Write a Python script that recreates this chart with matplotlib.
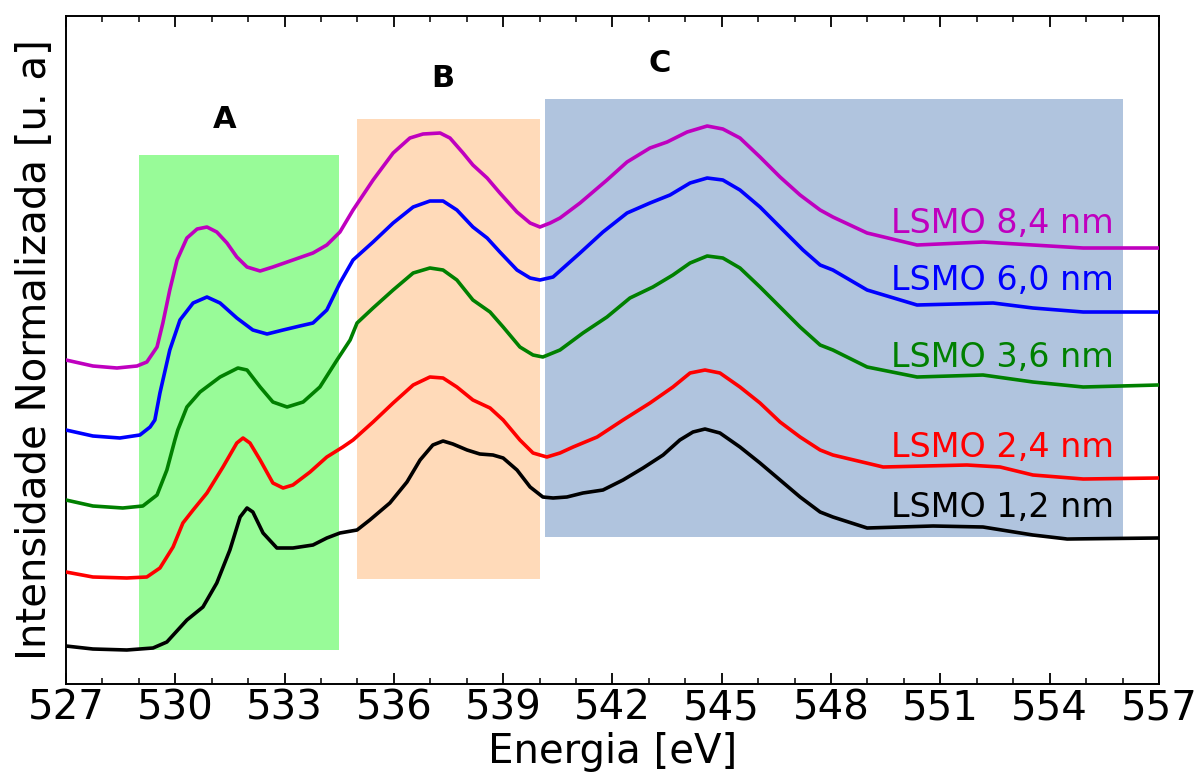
import numpy as np
import matplotlib
matplotlib.use("Agg")
import matplotlib.pyplot as plt
from matplotlib.ticker import MultipleLocator

# XAS O K-edge, curvas com offset
e_12 = [527.0, 527.74, 528.67, 529.39, 529.77, 530.32, 530.76, 531.14, 531.50, 531.78, 531.97, 532.13,
        532.41, 532.79, 533.23, 533.78, 534.16, 534.52, 534.99, 535.34, 535.89, 536.36, 536.72, 537.07,
        537.35, 537.62, 538.01, 538.36, 538.72, 539.00, 539.38, 539.74, 540.09, 540.37, 540.75, 541.19,
        541.74, 542.29, 542.84, 543.39, 543.85, 544.21, 544.54, 544.95, 545.50, 546.05, 546.60, 547.15,
        547.70, 548.05, 548.99, 550.80, 552.17, 553.54, 554.48, 556.98]
i_12 = [0.38, 0.35, 0.34, 0.36, 0.42, 0.64, 0.77, 1.01, 1.34, 1.67, 1.76, 1.72,
        1.51, 1.36, 1.36, 1.39, 1.46, 1.51, 1.54, 1.64, 1.81, 2.02, 2.24, 2.39,
        2.43, 2.40, 2.34, 2.30, 2.29, 2.26, 2.14, 1.97, 1.87, 1.86, 1.87, 1.91,
        1.94, 2.04, 2.16, 2.29, 2.44, 2.52, 2.55, 2.51, 2.37, 2.21, 2.04, 1.87,
        1.72, 1.67, 1.56, 1.58, 1.57, 1.49, 1.45, 1.46]

e_24 = [527.0, 527.74, 528.67, 529.22, 529.58, 529.94, 530.21, 530.49, 530.87, 531.31, 531.69, 531.86,
        532.05, 532.33, 532.68, 532.96, 533.23, 533.70, 534.16, 534.60, 534.88, 535.43, 535.98, 536.53,
        536.99, 537.35, 537.73, 538.17, 538.64, 539.00, 539.46, 539.82, 540.20, 540.56, 540.92, 541.58,
        542.29, 543.03, 543.66, 544.13, 544.54, 544.95, 545.50, 546.05, 546.60, 547.15, 547.70, 548.05,
        549.43, 551.73, 552.64, 553.54, 554.92, 556.98]
i_24 = [1.12, 1.07, 1.06, 1.07, 1.16, 1.37, 1.61, 1.74, 1.91, 2.17, 2.41, 2.46,
        2.41, 2.24, 2.01, 1.96, 1.99, 2.12, 2.27, 2.37, 2.44, 2.62, 2.81, 2.99,
        3.07, 3.06, 2.97, 2.84, 2.76, 2.64, 2.44, 2.31, 2.27, 2.31, 2.37, 2.47,
        2.64, 2.81, 2.97, 3.11, 3.14, 3.11, 2.97, 2.81, 2.62, 2.47, 2.34, 2.29,
        2.17, 2.19, 2.17, 2.09, 2.05, 2.06]

e_36 = [527.0, 527.74, 528.56, 529.11, 529.50, 529.77, 529.99, 530.07, 530.32, 530.68, 531.23, 531.72,
        531.97, 532.33, 532.68, 533.07, 533.51, 533.97, 534.44, 534.80, 534.99, 535.43, 535.98, 536.53,
        536.99, 537.35, 537.73, 538.17, 538.64, 539.00, 539.46, 539.82, 540.09, 540.56, 541.19, 541.85,
        542.48, 543.11, 543.66, 544.13, 544.60, 545.03, 545.50, 546.05, 546.60, 547.15, 547.70, 548.05,
        548.99, 550.36, 552.17, 553.54, 554.92, 556.98]
i_36 = [1.84, 1.78, 1.76, 1.78, 1.89, 2.14, 2.44, 2.54, 2.77, 2.92, 3.07, 3.16,
        3.14, 2.97, 2.82, 2.77, 2.82, 2.97, 3.24, 3.44, 3.61, 3.76, 3.94, 4.11,
        4.16, 4.14, 4.04, 3.84, 3.72, 3.57, 3.37, 3.29, 3.27, 3.34, 3.51, 3.67,
        3.86, 3.97, 4.09, 4.21, 4.28, 4.26, 4.16, 3.97, 3.77, 3.57, 3.39, 3.34,
        3.17, 3.07, 3.09, 3.02, 2.97, 2.99]

e_60 = [527.0, 527.74, 528.48, 529.03, 529.31, 529.44, 529.58, 529.85, 530.13, 530.49, 530.87, 531.23,
        531.69, 532.13, 532.52, 532.96, 533.42, 533.78, 534.16, 534.52, 534.88, 535.43, 535.98, 536.53,
        536.99, 537.35, 537.73, 538.17, 538.56, 538.91, 539.38, 539.74, 540.01, 540.37, 541.11, 541.74,
        542.40, 543.03, 543.58, 544.13, 544.60, 545.03, 545.50, 546.05, 546.68, 547.23, 547.70, 548.05,
        548.99, 550.36, 552.45, 553.54, 554.92, 556.98]
i_60 = [2.54, 2.48, 2.46, 2.49, 2.57, 2.64, 2.91, 3.34, 3.64, 3.81, 3.87, 3.81,
        3.66, 3.54, 3.50, 3.54, 3.58, 3.61, 3.74, 4.01, 4.24, 4.42, 4.61, 4.77,
        4.83, 4.83, 4.74, 4.57, 4.46, 4.32, 4.14, 4.06, 4.04, 4.07, 4.31, 4.52,
        4.71, 4.81, 4.89, 5.01, 5.06, 5.04, 4.94, 4.77, 4.54, 4.34, 4.19, 4.14,
        3.94, 3.79, 3.81, 3.76, 3.72, 3.72]

e_84 = [527.0, 527.74, 528.40, 528.95, 529.22, 529.50, 529.66, 529.85, 530.05, 530.32, 530.60, 530.87,
        531.14, 531.42, 531.69, 531.97, 532.33, 532.68, 533.23, 533.78, 534.16, 534.52, 534.88, 535.43,
        535.98, 536.44, 536.80, 537.27, 537.54, 537.90, 538.17, 538.56, 538.91, 539.38, 539.74, 540.01,
        540.29, 540.56, 541.11, 541.85, 542.40, 543.03, 543.50, 544.05, 544.60, 545.03, 545.50, 546.05,
        546.60, 547.15, 547.70, 548.05, 548.99, 550.36, 552.17, 553.54, 554.92, 556.98]
i_84 = [3.24, 3.18, 3.16, 3.18, 3.22, 3.37, 3.61, 3.94, 4.24, 4.46, 4.55, 4.57,
        4.52, 4.41, 4.27, 4.17, 4.13, 4.17, 4.24, 4.31, 4.39, 4.52, 4.74, 5.04,
        5.31, 5.46, 5.50, 5.51, 5.46, 5.31, 5.19, 5.06, 4.91, 4.72, 4.61, 4.57,
        4.61, 4.66, 4.81, 5.04, 5.22, 5.36, 5.42, 5.52, 5.58, 5.55, 5.46, 5.27,
        5.07, 4.89, 4.74, 4.67, 4.51, 4.39, 4.42, 4.39, 4.36, 4.36]

energias = [e_12, e_24, e_36, e_60, e_84]
intensidades = [i_12, i_24, i_36, i_60, i_84]
cores = ['k', 'r', 'g', 'b', 'm']
rotulos = ['LSMO 1,2 nm', 'LSMO 2,4 nm', 'LSMO 3,6 nm', 'LSMO 6,0 nm', 'LSMO 8,4 nm']
y_rotulos = [1.67, 2.27, 3.17, 3.94, 4.51]

# regioes A, B, C: (x0, x1, y0, y1)
regioes = {'A': (529.0, 534.5, 0.34, 5.29),
           'B': (535.0, 540.0, 1.05, 5.65),
           'C': (540.15, 556.0, 1.47, 5.85)}
cores_regioes = {'A': 'palegreen', 'B': 'peachpuff', 'C': 'lightsteelblue'}
pos_letras = {'A': (531.36, 5.56), 'B': (537.35, 5.97), 'C': (543.3, 6.12)}

fig, ax = plt.subplots(figsize=(11.99, 7.81), dpi=100)
fig.subplots_adjust(left=0.055, right=0.9666, top=0.9795, bottom=0.1242)

for k in regioes:
    x0, x1, y0, y1 = regioes[k]
    ax.fill_between([x0, x1], y0, y1, color=cores_regioes[k], lw=0, zorder=0)
    ax.text(pos_letras[k][0], pos_letras[k][1], k, fontsize=22, fontweight='bold',
            ha='center', va='baseline')

for e, i, c, lab, yl in zip(energias, intensidades, cores, rotulos, y_rotulos):
    ax.plot(e, i, color=c, lw=2.6, zorder=3, solid_joinstyle='round')
    ax.text(555.77, yl, lab, color=c, fontsize=24, ha='right', va='baseline', zorder=4)

ax.set_xlim(527, 557)
ax.set_ylim(0, 6.68)
ax.set_xticks(np.arange(527, 558, 3))
ax.xaxis.set_minor_locator(MultipleLocator(1))
ax.tick_params(axis='x', which='both', direction='in', top=True, labelsize=29)
ax.tick_params(axis='x', which='major', length=8, width=1.3)
ax.tick_params(axis='x', which='minor', length=4, width=1.1)
ax.set_yticks([])
for s in ax.spines.values():
    s.set_linewidth(1.4)

ax.set_xlabel('Energia [eV]', fontsize=29, labelpad=2)
ax.set_ylabel('Intensidade Normalizada [u. a]', fontsize=29, labelpad=8)

plt.savefig('out.png')
